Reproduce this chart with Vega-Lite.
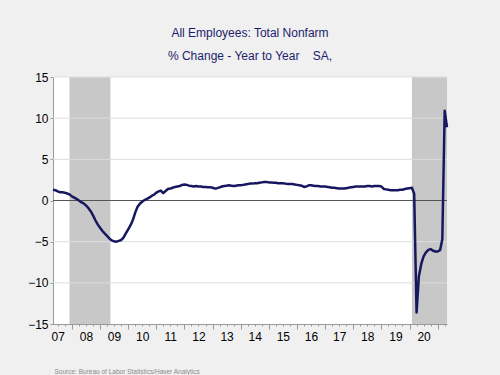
{
  "$schema": "https://vega.github.io/schema/vega-lite/v6.json",
  "autosize": {"type": "none"},
  "width": 394,
  "height": 247,
  "padding": {"left": 53, "top": 77, "right": 53, "bottom": 51},
  "background": "#f0f0f0",
  "config": {
    "font": "Liberation Sans",
    "view": {"fill": "white", "stroke": null}
  },
  "title": {
    "text": "All Employees: Total Nonfarm",
    "subtitle": "% Change - Year to Year\u00a0\u00a0\u00a0\u00a0SA,",
    "fontSize": 12,
    "fontWeight": "normal",
    "color": "#1c1c6c",
    "subtitleFontSize": 12,
    "subtitleColor": "#1c1c6c",
    "subtitlePadding": 11,
    "offset": 8,
    "anchor": "middle"
  },
  "datasets": {
    "rec": [
      {"s": "2007-12-01", "e": "2009-05-15"},
      {"s": "2020-02-01", "e": "2021-05-01"}
    ],
    "grid": [{"y": -10}, {"y": -5}, {"y": 5}, {"y": 10}, {"y": 15}],
    "emp": [
      {"d": "2007-05-01", "v": 1.3}, {"d": "2007-06-01", "v": 1.25}, {"d": "2007-07-01", "v": 1.1}, {"d": "2007-08-01", "v": 1.0},
      {"d": "2007-09-01", "v": 1.0}, {"d": "2007-10-01", "v": 0.95}, {"d": "2007-11-01", "v": 0.85}, {"d": "2007-12-01", "v": 0.75},
      {"d": "2008-01-01", "v": 0.5}, {"d": "2008-02-01", "v": 0.35}, {"d": "2008-03-01", "v": 0.2}, {"d": "2008-04-01", "v": 0.0},
      {"d": "2008-05-01", "v": -0.2}, {"d": "2008-06-01", "v": -0.35}, {"d": "2008-07-01", "v": -0.6}, {"d": "2008-08-01", "v": -0.9},
      {"d": "2008-09-01", "v": -1.3}, {"d": "2008-10-01", "v": -1.8}, {"d": "2008-11-01", "v": -2.4}, {"d": "2008-12-01", "v": -2.9},
      {"d": "2009-01-01", "v": -3.3}, {"d": "2009-02-01", "v": -3.7}, {"d": "2009-03-01", "v": -4.0}, {"d": "2009-04-01", "v": -4.3},
      {"d": "2009-05-01", "v": -4.6}, {"d": "2009-06-01", "v": -4.85}, {"d": "2009-07-01", "v": -4.95}, {"d": "2009-08-01", "v": -5.0},
      {"d": "2009-09-01", "v": -4.9}, {"d": "2009-10-01", "v": -4.8}, {"d": "2009-11-01", "v": -4.5}, {"d": "2009-12-01", "v": -4.0},
      {"d": "2010-01-01", "v": -3.5}, {"d": "2010-02-01", "v": -3.0}, {"d": "2010-03-01", "v": -2.4}, {"d": "2010-04-01", "v": -1.5},
      {"d": "2010-05-01", "v": -0.8}, {"d": "2010-06-01", "v": -0.4}, {"d": "2010-07-01", "v": -0.15}, {"d": "2010-08-01", "v": 0.05},
      {"d": "2010-09-01", "v": 0.2}, {"d": "2010-10-01", "v": 0.35}, {"d": "2010-11-01", "v": 0.55}, {"d": "2010-12-01", "v": 0.7},
      {"d": "2011-01-01", "v": 0.95}, {"d": "2011-02-01", "v": 1.1}, {"d": "2011-03-01", "v": 1.2}, {"d": "2011-04-01", "v": 0.9},
      {"d": "2011-05-01", "v": 1.15}, {"d": "2011-06-01", "v": 1.4}, {"d": "2011-07-01", "v": 1.45}, {"d": "2011-08-01", "v": 1.55},
      {"d": "2011-09-01", "v": 1.65}, {"d": "2011-10-01", "v": 1.7}, {"d": "2011-11-01", "v": 1.75}, {"d": "2011-12-01", "v": 1.9},
      {"d": "2012-01-01", "v": 1.95}, {"d": "2012-02-01", "v": 1.9}, {"d": "2012-03-01", "v": 1.8}, {"d": "2012-04-01", "v": 1.75},
      {"d": "2012-05-01", "v": 1.7}, {"d": "2012-06-01", "v": 1.75}, {"d": "2012-07-01", "v": 1.7}, {"d": "2012-08-01", "v": 1.7},
      {"d": "2012-09-01", "v": 1.65}, {"d": "2012-10-01", "v": 1.65}, {"d": "2012-11-01", "v": 1.6}, {"d": "2012-12-01", "v": 1.6},
      {"d": "2013-01-01", "v": 1.55}, {"d": "2013-02-01", "v": 1.45}, {"d": "2013-03-01", "v": 1.5}, {"d": "2013-04-01", "v": 1.6},
      {"d": "2013-05-01", "v": 1.7}, {"d": "2013-06-01", "v": 1.75}, {"d": "2013-07-01", "v": 1.8}, {"d": "2013-08-01", "v": 1.85},
      {"d": "2013-09-01", "v": 1.8}, {"d": "2013-10-01", "v": 1.75}, {"d": "2013-11-01", "v": 1.8}, {"d": "2013-12-01", "v": 1.85},
      {"d": "2014-01-01", "v": 1.85}, {"d": "2014-02-01", "v": 1.9}, {"d": "2014-03-01", "v": 1.95}, {"d": "2014-04-01", "v": 2.0},
      {"d": "2014-05-01", "v": 2.05}, {"d": "2014-06-01", "v": 2.05}, {"d": "2014-07-01", "v": 2.1}, {"d": "2014-08-01", "v": 2.1},
      {"d": "2014-09-01", "v": 2.15}, {"d": "2014-10-01", "v": 2.2}, {"d": "2014-11-01", "v": 2.25}, {"d": "2014-12-01", "v": 2.25},
      {"d": "2015-01-01", "v": 2.2}, {"d": "2015-02-01", "v": 2.2}, {"d": "2015-03-01", "v": 2.15}, {"d": "2015-04-01", "v": 2.15},
      {"d": "2015-05-01", "v": 2.1}, {"d": "2015-06-01", "v": 2.1}, {"d": "2015-07-01", "v": 2.1}, {"d": "2015-08-01", "v": 2.05},
      {"d": "2015-09-01", "v": 2.0}, {"d": "2015-10-01", "v": 2.0}, {"d": "2015-11-01", "v": 2.0}, {"d": "2015-12-01", "v": 1.95},
      {"d": "2016-01-01", "v": 1.9}, {"d": "2016-02-01", "v": 1.85}, {"d": "2016-03-01", "v": 1.8}, {"d": "2016-04-01", "v": 1.65},
      {"d": "2016-05-01", "v": 1.7}, {"d": "2016-06-01", "v": 1.85}, {"d": "2016-07-01", "v": 1.85}, {"d": "2016-08-01", "v": 1.8},
      {"d": "2016-09-01", "v": 1.75}, {"d": "2016-10-01", "v": 1.75}, {"d": "2016-11-01", "v": 1.7}, {"d": "2016-12-01", "v": 1.7},
      {"d": "2017-01-01", "v": 1.7}, {"d": "2017-02-01", "v": 1.65}, {"d": "2017-03-01", "v": 1.6}, {"d": "2017-04-01", "v": 1.55},
      {"d": "2017-05-01", "v": 1.55}, {"d": "2017-06-01", "v": 1.5}, {"d": "2017-07-01", "v": 1.45}, {"d": "2017-08-01", "v": 1.45},
      {"d": "2017-09-01", "v": 1.45}, {"d": "2017-10-01", "v": 1.5}, {"d": "2017-11-01", "v": 1.55}, {"d": "2017-12-01", "v": 1.6},
      {"d": "2018-01-01", "v": 1.65}, {"d": "2018-02-01", "v": 1.7}, {"d": "2018-03-01", "v": 1.7}, {"d": "2018-04-01", "v": 1.7},
      {"d": "2018-05-01", "v": 1.7}, {"d": "2018-06-01", "v": 1.7}, {"d": "2018-07-01", "v": 1.75}, {"d": "2018-08-01", "v": 1.75},
      {"d": "2018-09-01", "v": 1.7}, {"d": "2018-10-01", "v": 1.75}, {"d": "2018-11-01", "v": 1.75}, {"d": "2018-12-01", "v": 1.75},
      {"d": "2019-01-01", "v": 1.7}, {"d": "2019-02-01", "v": 1.4}, {"d": "2019-03-01", "v": 1.35}, {"d": "2019-04-01", "v": 1.3},
      {"d": "2019-05-01", "v": 1.25}, {"d": "2019-06-01", "v": 1.25}, {"d": "2019-07-01", "v": 1.25}, {"d": "2019-08-01", "v": 1.25},
      {"d": "2019-09-01", "v": 1.3}, {"d": "2019-10-01", "v": 1.3}, {"d": "2019-11-01", "v": 1.4}, {"d": "2019-12-01", "v": 1.45},
      {"d": "2020-01-01", "v": 1.5}, {"d": "2020-02-01", "v": 1.55}, {"d": "2020-03-01", "v": 0.8}, {"d": "2020-04-01", "v": -13.6},
      {"d": "2020-05-01", "v": -9.2}, {"d": "2020-06-01", "v": -7.7}, {"d": "2020-07-01", "v": -6.8}, {"d": "2020-08-01", "v": -6.3},
      {"d": "2020-09-01", "v": -6.0}, {"d": "2020-10-01", "v": -5.9}, {"d": "2020-11-01", "v": -6.1}, {"d": "2020-12-01", "v": -6.2},
      {"d": "2021-01-01", "v": -6.2}, {"d": "2021-02-01", "v": -6.0}, {"d": "2021-03-01", "v": -4.7}, {"d": "2021-04-01", "v": 10.9},
      {"d": "2021-05-01", "v": 8.9}
    ]
  },
  "layer": [
    {
      "data": {"name": "rec"},
      "mark": {"type": "rect", "color": "#c8c8c8"},
      "encoding": {
        "x": {
          "field": "s", "type": "temporal",
          "scale": {"type": "utc", "domain": [{"year": 2007, "month": 5, "date": 1, "utc": true}, {"year": 2021, "month": 5, "date": 1, "utc": true}]},
          "axis": {
            "title": "Source:  Bureau of Labor Statistics/Haver Analytics",
            "titleFontSize": 6.5, "titleFontWeight": "normal", "titleColor": "#8a8a8a",
            "titleAnchor": "start", "titleAlign": "left", "titleX": 1, "titleY": 47, "titleBaseline": "middle",
            "tickCount": {"interval": "month", "step": 3},
            "tickColor": "#9a9a9a",
            "tickSize": {"condition": {"test": "utcmonth(datum.value) == 0", "value": 5}, "value": 2},
            "domainColor": "#9a9a9a",
            "labelExpr": "utcmonth(datum.value) == 6 ? utcFormat(datum.value, '%y') : ''",
            "labelFontSize": 12, "labelColor": "#000000", "labelOverlap": false, "labelBound": false,
            "labelPadding": 5, "grid": false
          }
        },
        "x2": {"field": "e"}
      }
    },
    {
      "data": {"name": "grid"},
      "mark": {"type": "rule", "color": "#dddddd", "strokeWidth": 1},
      "encoding": {
        "y": {"field": "y", "type": "quantitative"}
      }
    },
    {
      "data": {"values": [{"z": 0}]},
      "mark": {"type": "rule", "color": "#555555", "strokeWidth": 1},
      "encoding": {
        "y": {"field": "z", "type": "quantitative"}
      }
    },
    {
      "data": {"name": "emp"},
      "mark": {"type": "line", "color": "#17175f", "strokeWidth": 2.5, "strokeJoin": "round"},
      "encoding": {
        "x": {"field": "d", "type": "temporal"},
        "y": {
          "field": "v", "type": "quantitative",
          "scale": {"domain": [-15, 15], "nice": false, "zero": false},
          "axis": {
            "title": null,
            "values": [-15, -10, -5, 0, 5, 10, 15],
            "labelFontSize": 12, "labelColor": "#000000",
            "tickSize": 3, "tickColor": "#9a9a9a",
            "domainColor": "#9a9a9a",
            "labelPadding": 2, "grid": false
          }
        }
      }
    }
  ]
}
